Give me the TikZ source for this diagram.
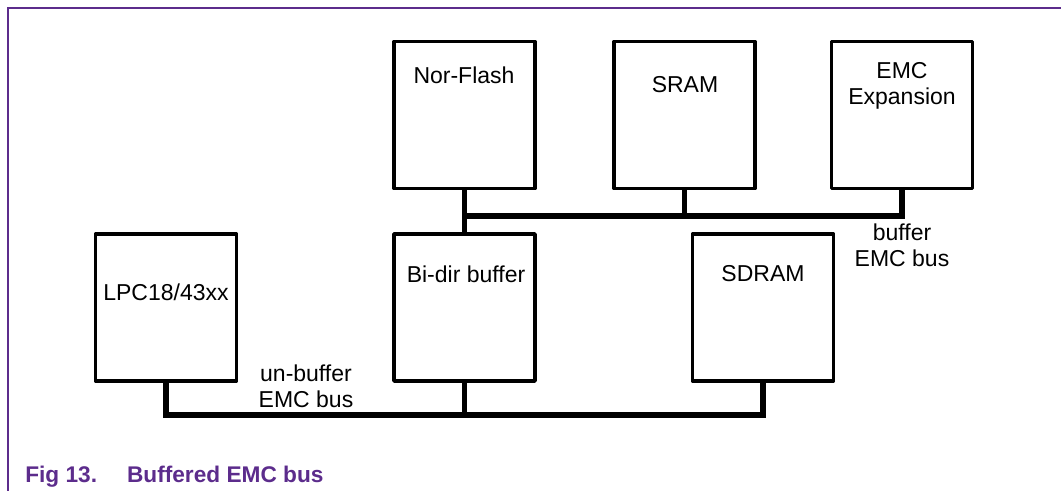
\documentclass[tikz,border=0pt]{standalone}
\usepackage{fontspec}
\setmainfont{Liberation Sans}
\definecolor{nxppurple}{RGB}{92,44,140}
\tikzset{
  blk/.style={draw, line width=2.6pt, line join=round, minimum width=105.75pt, minimum height=110.25pt, inner sep=0pt, outer sep=0pt},
  bus/.style={line width=4pt},
  txt/.style={inner sep=0pt, anchor=base, align=center, font=\fontsize{17.25}{19.5}\selectfont},
}
\begin{document}
\begin{tikzpicture}[x=0.75pt, y=-0.75pt]
      \useasboundingbox (0,0) rectangle (1061,491);
      % Frame
      \draw[nxppurple, line width=1.1pt] (8,491) -- (8,8) -- (1061,8);
      % Memories
      \node[blk] (nor) at (464.5,115) {};
      \node[blk] (sram) at (684.5,115) {};
      \node[blk] (exp) at (902,115) {};
      \node[txt] (norT) at (464,84) {Nor-Flash};
      \node[txt] (sramT) at (685,93) {SRAM};
      \node[txt] (expT) at (902,105) {EMC\\Expansion};
      % Lower row
      \node[blk] (lpc) at (166,307.5) {};
      \node[blk] (bidir) at (464.5,307.5) {};
      \node[blk] (sdram) at (763,307.5) {};
      \node[txt] (lpcT) at (166,301) {LPC18/43xx};
      \node[txt] (bidirT) at (466,283) {Bi-dir buffer};
      \node[txt] (sdramT) at (763,282) {SDRAM};
      % Buses
      \coordinate (ubus) at (464.5,216);
      \coordinate (lbus) at (0,415);
      \draw[bus] (nor.south) -- (bidir.north);
      \draw[bus] (ubus) -| (exp.south);
      \draw[bus] (sram.south) -- (sram.south |- ubus);
      \draw[bus] (lpc.south) |- (sdram.south |- lbus) -- (sdram.south);
      \draw[bus] (bidir.south) -- (bidir.south |- lbus);
      \node[txt] (bufT) at (902,267) {buffer\\EMC bus};
      \node[txt] (unbufT) at (306,408) {un-buffer\\EMC bus};
      % Caption
      \node[anchor=base west, inner sep=0pt, text=nxppurple, font=\fontsize{17}{19}\selectfont\bfseries] (cap) at (25,483) {Fig 13.\hspace{22.5pt}Buffered EMC bus};
\end{tikzpicture}
\end{document}
